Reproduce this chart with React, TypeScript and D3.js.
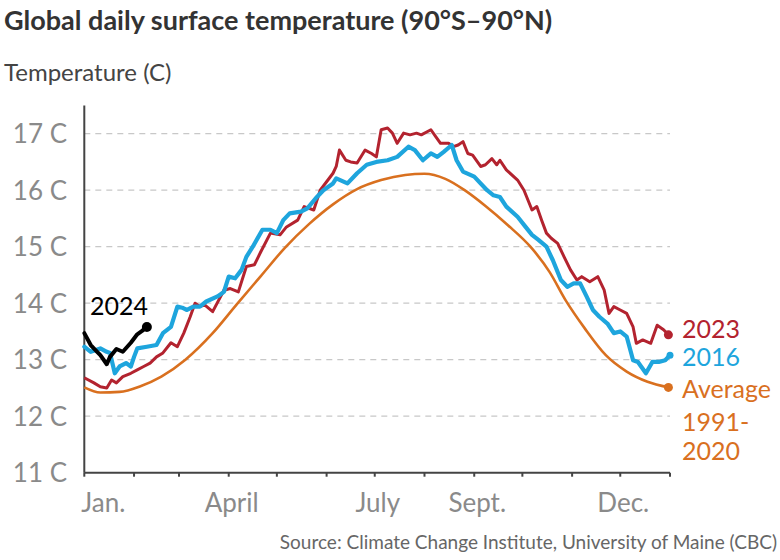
import React from 'react';
import * as d3 from 'd3';

// ---- data ----
const yTicks = [12, 13, 14, 15, 16, 17];
const yLabels = [11, 12, 13, 14, 15, 16, 17];
const monthStarts = [0, 31, 59, 90, 120, 151, 181, 212, 243, 273, 304, 334, 365];
const xLabels = ['Jan.', 'April', 'July', 'Sept.', 'Dec.'];
const xLabelDays = [0, 90, 181, 243, 334];

const days2023 = [0,6,10,14,17,20,24,29,33,37,41,45,49,54,58,62,66,69,72,75,80,87,91,96,101,106,110,116,122,126,133,137,143,147,151,155,157,159,163,166,170,175,179,182,185,189,192,195,199,203,207,210,216,219,222,227,230,233,236,239,242,247,250,254,257,259,263,270,274,279,282,285,288,291,295,299,303,307,310,315,320,324,327,330,334,338,342,344,348,353,357,361,364];
const temps2023 = [12.68,12.59,12.52,12.50,12.64,12.59,12.70,12.76,12.82,12.88,12.94,13.05,13.12,13.30,13.23,13.47,13.76,14.00,13.94,13.97,13.85,14.23,14.26,14.20,14.65,14.68,14.91,15.24,15.21,15.35,15.47,15.71,15.65,16.00,16.15,16.30,16.42,16.71,16.53,16.50,16.48,16.71,16.65,16.59,17.07,17.10,17.01,16.83,17.01,16.98,17.01,16.98,17.07,16.95,16.83,16.83,16.77,16.80,16.86,16.65,16.62,16.42,16.45,16.56,16.45,16.53,16.36,16.18,16.00,15.65,15.71,15.47,15.24,15.15,15.06,14.82,14.59,14.41,14.47,14.38,14.47,14.23,13.82,13.94,13.88,13.82,13.58,13.29,13.35,13.29,13.61,13.53,13.44];

const days2016 = [0,4,10,14,16,19,22,26,29,31,33,39,45,49,54,58,61,64,68,72,76,83,87,90,94,98,101,105,111,116,120,124,128,135,139,145,149,155,157,164,170,176,182,189,195,202,206,211,216,220,224,229,232,236,243,251,255,259,263,270,275,279,283,288,292,297,301,305,309,313,317,321,326,330,334,338,342,345,350,354,358,362,365];
const temps2016 = [13.23,13.14,13.20,13.14,13.12,12.76,12.88,12.94,12.88,13.05,13.20,13.23,13.26,13.47,13.58,13.94,13.92,13.88,13.94,13.94,14.03,14.12,14.20,14.47,14.44,14.59,14.82,15.00,15.30,15.30,15.24,15.47,15.59,15.62,15.68,15.88,16.00,16.12,16.21,16.12,16.30,16.45,16.50,16.53,16.59,16.77,16.71,16.53,16.65,16.59,16.68,16.80,16.53,16.33,16.24,16.00,15.91,15.88,15.71,15.53,15.35,15.21,15.12,15.00,14.76,14.41,14.29,14.35,14.35,14.12,13.88,13.76,13.64,13.47,13.50,13.41,12.99,12.96,12.76,12.96,12.96,12.99,13.08];

const daysAvg = [0,10,22,35,48,63,80,95,110,125,140,155,170,185,200,212,225,237,250,264,278,290,300,312,325,338,351,364];
const tempsAvg = [12.51,12.42,12.43,12.53,12.70,13.00,13.47,13.98,14.48,14.98,15.40,15.75,16.02,16.18,16.27,16.29,16.20,16.00,15.72,15.38,15.00,14.55,14.05,13.55,13.08,12.79,12.61,12.51];

const days2024 = [0,4,8,10,14,16,20,24,29,33,36,39];
const temps2024 = [13.47,13.26,13.14,13.08,12.92,13.05,13.19,13.14,13.30,13.45,13.51,13.58];

const FONT = "Lato, 'Noto Sans', sans-serif";
const C2023 = '#b3232f';
const C2016 = '#1ea5dd';
const CAVG = '#d9701f';

export default function App() {
  const W = 780, H = 560;
  const x = d3.scaleLinear().domain([0, 365]).range([84.3, 670]);
  const y = d3.scaleLinear().domain([11, 17]).range([472.7, 133.7]);

  const zip = (ds: number[], ts: number[]) => ds.map((d, i) => [d, ts[i]] as [number, number]);
  const lin = d3.line<[number, number]>().x(d => x(d[0])).y(d => y(d[1]));
  const smooth = d3.line<[number, number]>().x(d => x(d[0])).y(d => y(d[1])).curve(d3.curveMonotoneX);

  const sAvg = zip(daysAvg, tempsAvg);
  const s23 = zip(days2023, temps2023);
  const s16 = zip(days2016, temps2016);
  const s24 = zip(days2024, temps2024);
  const last = (s: [number, number][]) => s[s.length - 1];

  return (
    <svg width={W} height={H} style={{ position: 'absolute', left: 0, top: 0, background: '#fff' }} fontFamily={FONT}>
      <text x={4} y={30} fontSize={27} fontWeight={700} fill="#333">Global daily surface temperature (90°S–90°N)</text>
      <text x={4} y={81} fontSize={24} fill="#444">Temperature (C)</text>

      {yTicks.map(t => (
        <line key={t} x1={x(0)} x2={x(365)} y1={y(t)} y2={y(t)} stroke="#c8c8c8" strokeWidth={1.3} strokeDasharray="6,5" />
      ))}
      {yLabels.map(t => (
        <text key={t} x={67} y={y(t)} dy="0.36em" textAnchor="end" fontSize={26} fill="#8a8a8a">{`${t} C`}</text>
      ))}

      <line x1={x(0)} x2={x(0)} y1={y(17.5)} y2={y(11)} stroke="#444" strokeWidth={2} />
      <line x1={x(0)} x2={x(365)} y1={y(11)} y2={y(11)} stroke="#444" strokeWidth={2} />
      {monthStarts.map(m => (
        <line key={m} x1={x(m)} x2={x(m)} y1={y(11)} y2={y(11) + 4} stroke="#444" strokeWidth={2} />
      ))}
      {xLabels.map((l, i) => (
        <text key={l} x={i === 0 ? x(xLabelDays[i]) - 3 : x(xLabelDays[i]) + 3} y={512} textAnchor={i === 0 ? 'start' : 'middle'} fontSize={26} fill="#8a8a8a">{l}</text>
      ))}

      <path d={smooth(sAvg) || ''} fill="none" stroke={CAVG} strokeWidth={2.6} strokeLinejoin="round" />
      <path d={lin(s23) || ''} fill="none" stroke={C2023} strokeWidth={3} strokeLinejoin="round" />
      <path d={lin(s16) || ''} fill="none" stroke={C2016} strokeWidth={4.2} strokeLinejoin="round" strokeLinecap="round" />
      <path d={lin(s24) || ''} fill="none" stroke="#000" strokeWidth={4} strokeLinejoin="round" strokeLinecap="round" />

      <circle cx={x(last(sAvg)[0])} cy={y(last(sAvg)[1])} r={4.5} fill={CAVG} />
      <circle cx={x(last(s23)[0])} cy={y(last(s23)[1])} r={4.5} fill={C2023} />
      <circle cx={x(last(s16)[0])} cy={y(last(s16)[1])} r={3.5} fill={C2016} />
      <circle cx={x(last(s24)[0])} cy={y(last(s24)[1])} r={5} fill="#000" />

      <text x={90} y={315} fontSize={25} fill="#000">2024</text>
      <text x={682} y={338} fontSize={25} fill={C2023}>2023</text>
      <text x={682} y={366} fontSize={25} fill={C2016}>2016</text>
      <text x={682} y={398} fontSize={25} fill={CAVG}>Average</text>
      <text x={682} y={431} fontSize={25} fill={CAVG}>1991-</text>
      <text x={682} y={460} fontSize={25} fill={CAVG}>2020</text>

      <text x={777} y={549} textAnchor="end" fontSize={19} fill="#666">Source: Climate Change Institute, University of Maine (CBC)</text>
    </svg>
  );
}
